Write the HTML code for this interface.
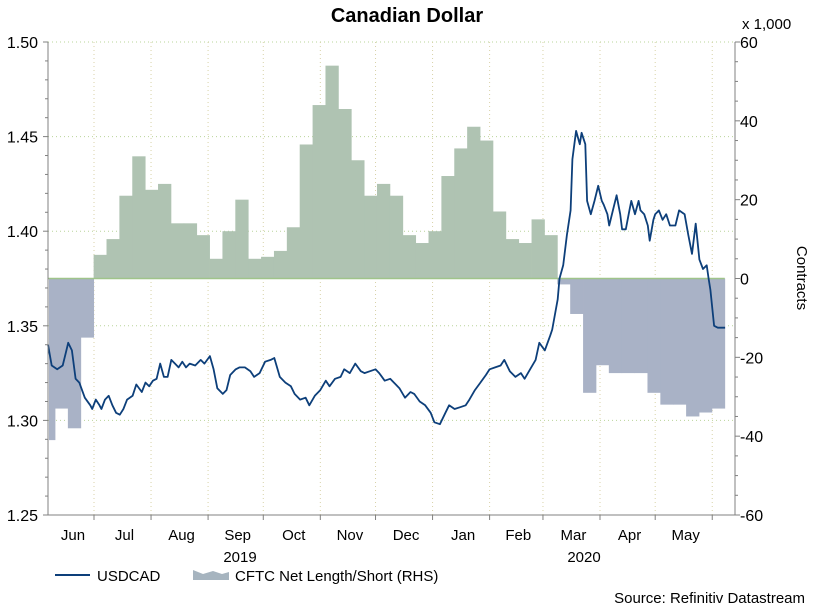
<!DOCTYPE html>
<html><head><meta charset="utf-8"><style>
body{margin:0;background:#fff;font-family:"Liberation Sans",Arial,sans-serif;}
svg text{font-family:"Liberation Sans",Arial,sans-serif;fill:#000;}
</style></head><body>
<svg id="chart" width="813" height="608" xmlns="http://www.w3.org/2000/svg">
<rect width="813" height="608" fill="#fff"/>
<text x="407" y="22" font-size="20" font-weight="bold" text-anchor="middle">Canadian Dollar</text>
<g id="grid"></g><g id="bars"></g><g id="line"></g><g id="axes"></g>
</svg>
<script>
const monthLabels=["Jun","Jul","Aug","Sep","Oct","Nov","Dec","Jan","Feb","Mar","Apr","May"];
const monthStartDays=[-5,25,56,87,117,148,178,209,240,269,300,330,361];
const leftTicks=[1.25,1.30,1.35,1.40,1.45,1.50];
const rightTicks=[-60,-40,-20,0,20,40,60];
const cftcStartDay=-3.2;
const cftcWeekly=[-41,-33,-38,-15,6,10,21,31,22.5,24,14,14,11,5,12,20,5,5.5,7,13,34,44,54,43,30,21,24,21,11,9,12,26,33,38.5,35,17,10,9,15,11,-1.5,-9,-29,-22,-24,-24,-24,-29,-32,-32,-35,-34,-33];
const fxDays=[0,2,5,8,10,11,13,15,17,20,23,24,26,28,29,31,33,35,37,39,41,43,46,48,51,53,55,57,59,61,63,65,67,69,71,73,75,77,80,83,85,88,90,92,95,97,99,102,104,107,110,112,115,118,121,123,126,129,132,134,137,140,142,145,148,151,153,156,159,161,164,167,170,172,175,178,180,183,186,189,191,194,197,199,202,205,208,210,213,216,218,221,224,227,229,232,235,238,240,243,246,248,251,254,257,259,262,265,267,270,273,274,277,278,280,282,284,285,287,289,290,292,293,295,297,299,301,302,304,305,307,309,311,312,314,316,317,319,321,322,324,326,327,329,330,332,334,336,338,341,343,346,348,350,352,354,356,358,359,360,362,364,368];
const usdcad=[1.340,1.329,1.327,1.329,1.337,1.341,1.337,1.322,1.320,1.312,1.308,1.306,1.311,1.308,1.306,1.311,1.313,1.308,1.304,1.303,1.306,1.311,1.313,1.319,1.315,1.320,1.318,1.321,1.322,1.330,1.323,1.323,1.332,1.330,1.328,1.331,1.328,1.330,1.329,1.332,1.330,1.334,1.327,1.317,1.314,1.316,1.324,1.327,1.328,1.328,1.326,1.323,1.325,1.331,1.332,1.333,1.323,1.320,1.318,1.314,1.311,1.312,1.308,1.313,1.316,1.321,1.318,1.322,1.323,1.327,1.325,1.330,1.326,1.325,1.326,1.327,1.325,1.321,1.322,1.319,1.317,1.312,1.315,1.314,1.310,1.308,1.304,1.299,1.298,1.304,1.308,1.306,1.307,1.308,1.311,1.316,1.320,1.324,1.327,1.328,1.329,1.332,1.326,1.323,1.325,1.322,1.327,1.332,1.341,1.337,1.345,1.348,1.364,1.375,1.382,1.398,1.411,1.438,1.453,1.446,1.452,1.446,1.416,1.409,1.416,1.424,1.416,1.414,1.409,1.403,1.411,1.419,1.409,1.401,1.401,1.411,1.416,1.409,1.416,1.411,1.409,1.403,1.395,1.406,1.409,1.411,1.406,1.409,1.403,1.403,1.411,1.409,1.398,1.388,1.404,1.385,1.380,1.382,1.375,1.369,1.350,1.349,1.349];

const X0=48,X1=735,Y0=42,Y1=515,DPX=1.84;
const xd=d=>X0+d*DPX;
const yL=v=>Y1-(v-1.25)/0.25*(Y1-Y0);
const yR=v=>Y1-(v+60)/120*(Y1-Y0);
const NS="http://www.w3.org/2000/svg";
function mk(tag,attrs,parent){const e=document.createElementNS(NS,tag);for(const k in attrs)e.setAttribute(k,attrs[k]);parent.appendChild(e);return e;}
const grid=document.getElementById('grid'),bars=document.getElementById('bars'),line=document.getElementById('line'),axes=document.getElementById('axes');

leftTicks.forEach(t=>{if(t>1.25){const g=mk('line',{x1:X0,x2:X1,y1:yL(t),y2:yL(t),stroke:'#b9d49a','stroke-dasharray':'1,3'},grid);

}});
monthStartDays.forEach(d=>{const x=xd(d);if(x>X0&&x<X1){const g=mk('line',{x1:x,x2:x,y1:Y0,y2:Y1,stroke:'#d8d2a8','stroke-dasharray':'1,3'},grid);

}});

const z=yR(0);
cftcWeekly.forEach((v,i)=>{let a=xd(cftcStartDay+7*i),b=xd(cftcStartDay+7*(i+1));a=Math.max(a,X0+1);b=Math.min(b,X1);
const y=yR(v);const r=mk('rect',{x:a,y:Math.min(y,z),width:b-a+0.4,height:Math.abs(y-z),fill:v>=0?'#afc3b2':'#a9b2c6'},bars);

});
const zl=mk('line',{x1:X0,x2:xd(cftcStartDay+7*cftcWeekly.length),y1:z,y2:z,stroke:'#9fc48a','stroke-width':1.5},bars);



const pts=fxDays.map((d,i)=>xd(d).toFixed(1)+','+yL(usdcad[i]).toFixed(1)).join(' ');
const pl=mk('polyline',{points:pts,fill:'none',stroke:'#0d3f7a','stroke-width':1.8,'stroke-linejoin':'round'},line);



const ax=mk('path',{d:`M${X0},${Y0}V${Y1}H${X1}V${Y0}`,fill:'none',stroke:'#808080','stroke-width':1},axes);


for(let v=1.25;v<=1.5001;v+=0.01){const y=yL(v);const maj=Math.abs(v*20-Math.round(v*20))<1e-6;
mk('line',{x1:X0-(maj?5:3),x2:X0,y1:y,y2:y,stroke:'#808080'},axes);}
for(let v=-60;v<=60;v+=5){const y=yR(v);const maj=v%20===0;mk('line',{x1:X1,x2:X1+(maj?5:3),y1:y,y2:y,stroke:'#808080'},axes);}
leftTicks.forEach(t=>{const e=mk('text',{x:X0-10,y:yL(t)+6,'font-size':16,'text-anchor':'end'},axes);e.textContent=t.toFixed(2);

});
rightTicks.forEach(t=>{const e=mk('text',{x:X1+5,y:yR(t)+6,'font-size':16},axes);e.textContent=String(t);

});
monthStartDays.forEach(d=>{const x=xd(d);if(x>X0&&x<X1)mk('line',{x1:x,x2:x,y1:Y1,y2:Y1+5,stroke:'#808080'},axes);});
monthLabels.forEach((m,i)=>{const a=Math.max(xd(monthStartDays[i]),X0),b=xd(monthStartDays[i+1]);
const e=mk('text',{x:(a+b)/2+2,y:540,'font-size':15,'text-anchor':'middle'},axes);e.textContent=m;

});
</script>
<svg style="position:absolute;left:0;top:0" width="813" height="608">
<text x="240" y="562" font-size="15" text-anchor="middle">2019</text>
<text x="584" y="562" font-size="15" text-anchor="middle">2020</text>
<text x="742" y="29" font-size="15">x 1,000</text>
<text x="0" y="0" font-size="15" transform="translate(797,278) rotate(90)" text-anchor="middle">Contracts</text>
<line x1="55" y1="575" x2="90" y2="575" stroke="#0d3f7a" stroke-width="2"/>
<text x="97" y="581" font-size="15">USDCAD</text>
<path d="M193,580 V570 L203,574 L213,571 L222,574 L229,572 V580 Z" fill="#a6b4bf"/>
<text x="235" y="581" font-size="15">CFTC Net Length/Short (RHS)</text>
<text x="805" y="603" font-size="15" text-anchor="end">Source: Refinitiv Datastream</text>
</svg>
</body></html>
